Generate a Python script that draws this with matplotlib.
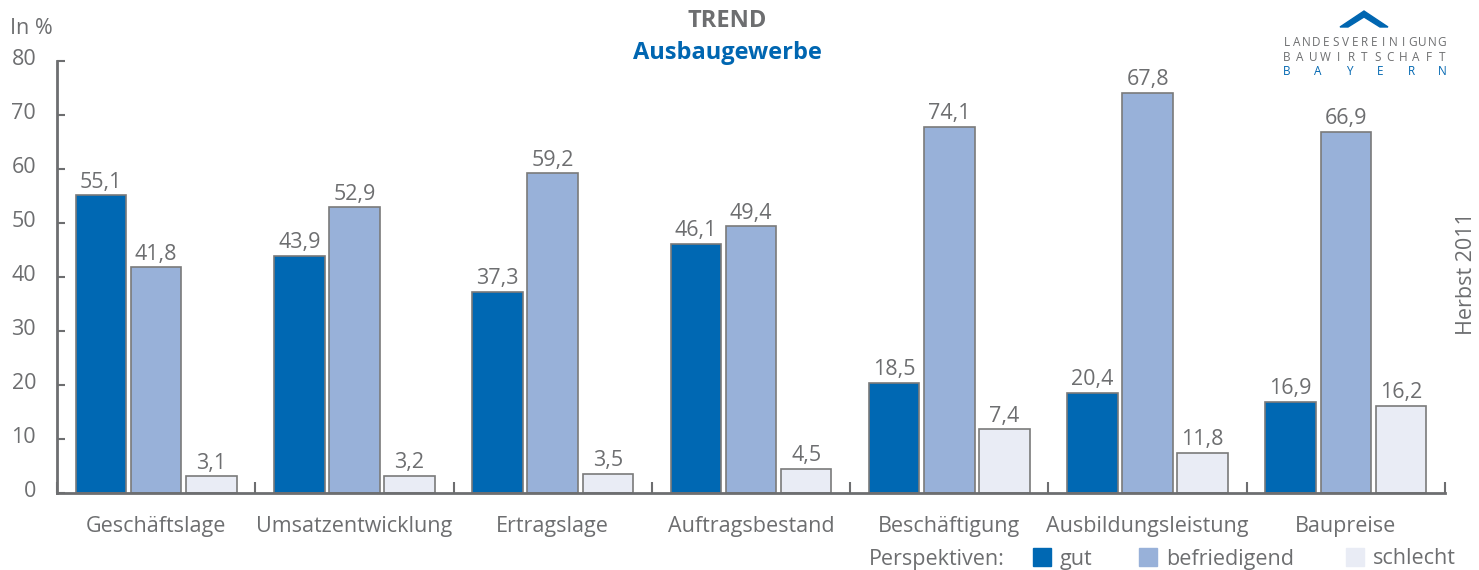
import numpy as np
import matplotlib.pyplot as plt
import matplotlib.transforms as mtransforms
from matplotlib.patches import Polygon

plt.rcParams['font.family'] = ['Open Sans', 'DejaVu Sans']

# Daten (Balkenhöhen wie gezeichnet, Beschriftungen wie gedruckt)
categories = ["Geschäftslage", "Umsatzentwicklung", "Ertragslage", "Auftragsbestand",
              "Beschäftigung", "Ausbildungsleistung", "Baupreise"]
gut = [55.1, 43.9, 37.3, 46.1, 20.4, 18.5, 16.9]
befriedigend = [41.8, 52.9, 59.2, 49.4, 67.8, 74.1, 66.9]
schlecht = [3.1, 3.2, 3.5, 4.5, 11.8, 7.4, 16.2]
gut_labels = ["55,1", "43,9", "37,3", "46,1", "18,5", "20,4", "16,9"]
befriedigend_labels = ["41,8", "52,9", "59,2", "49,4", "74,1", "67,8", "66,9"]
schlecht_labels = ["3,1", "3,2", "3,5", "4,5", "7,4", "11,8", "16,2"]
series_names = ["gut", "befriedigend", "schlecht"]
yticks = [0, 10, 20, 30, 40, 50, 60, 70, 80]

grey = "#6d6e70"
blue = "#0066b1"
colors = ["#0068b3", "#98b1d9", "#e9ecf5"]
fs = 15.5

fig = plt.figure(figsize=(14.79, 5.70), dpi=100)
ax = fig.add_axes([57 / 1479, 1 - 493 / 570, (1445 - 57) / 1479, (493 - 61) / 570])

x = np.arange(len(categories))
w = 0.255
step = 0.278
for k, (vals, labs) in enumerate([(gut, gut_labels), (befriedigend, befriedigend_labels),
                                  (schlecht, schlecht_labels)]):
    xs = x + (k - 1) * step
    ax.bar(xs, vals, w, color=colors[k], edgecolor="#7a7a7a", linewidth=1.2, zorder=2)
    for xi, v, t in zip(xs, vals, labs):
        ax.text(xi, v + 0.5, t, ha="center", va="bottom", fontsize=fs, color=grey)

ax.set_xlim(-0.5, len(categories) - 0.5)
ax.set_ylim(0, 80)
ax.set_yticks(yticks)
ax.set_yticklabels([str(t) for t in yticks], fontsize=fs, color=grey)
ax.tick_params(axis="y", direction="in", length=6, width=1.5, color=grey, pad=15)
# Zahlen etwas über den Strichen
shift = mtransforms.ScaledTranslation(0, 4 / 100, fig.dpi_scale_trans)
for lab in ax.get_yticklabels():
    lab.set_transform(lab.get_transform() + shift)
ax.set_xticks(np.arange(len(categories) + 1) - 0.5)
ax.set_xticklabels([])
ax.tick_params(axis="x", direction="in", length=8, width=1.5, color=grey)
for i, c in enumerate(categories):
    ax.text(i, -4.3, c, ha="center", va="top", fontsize=fs, color=grey)

for s in ["top", "right"]:
    ax.spines[s].set_visible(False)
for s in ["left", "bottom"]:
    ax.spines[s].set_color(grey)
    ax.spines[s].set_linewidth(2)

# Titel und Beschriftungen
fig.text(10 / 1479, 1 - 29 / 570, "In %", fontsize=fs, color=grey, va="center")
fig.text(727 / 1479, 1 - 21 / 570, "TREND", fontsize=17, fontweight="bold", color=grey,
         ha="center", va="center")
fig.text(727 / 1479, 1 - 53 / 570, "Ausbaugewerbe", fontsize=17, fontweight="bold", color=blue,
         ha="center", va="center")
fig.text(1467 / 1479, 1 - 274 / 570, "Herbst 2011", fontsize=fs, color=grey, rotation=90,
         ha="center", va="center")

# Legende
fig.text(869 / 1479, 1 - 559 / 570, "Perspektiven:", fontsize=fs, color=grey, va="center")
leg_x = [1033, 1139, 1346]
for lx, c, name in zip(leg_x, colors, series_names):
    fig.patches.append(plt.Rectangle((lx / 1479, 1 - 566 / 570), 18 / 1479, 18 / 570,
                                     transform=fig.transFigure, color=c))
    fig.text((lx + 27) / 1479, 1 - 559 / 570, name, fontsize=fs, color=grey, va="center")

# Logo
roof = Polygon([[1340 / 1479, 1 - 27 / 570], [1364 / 1479, 1 - 11 / 570], [1388 / 1479, 1 - 27 / 570],
                [1380 / 1479, 1 - 27 / 570], [1364 / 1479, 1 - 17 / 570], [1348 / 1479, 1 - 27 / 570]],
               closed=True, transform=fig.transFigure, color=blue)
fig.patches.append(roof)
logo_lines = [("LANDESVEREINIGUNG", grey), ("BAUWIRTSCHAFT", grey), ("BAYERN", blue)]
for j, (word, col) in enumerate(logo_lines):
    xs = np.linspace(1287, 1442, len(word))
    for ch, xc in zip(word, xs):
        fig.text(xc / 1479, 1 - (43 + 14.5 * j) / 570, ch, fontsize=8.5, color=col,
                 ha="center", va="center")

fig.savefig("out.png", dpi=100)
